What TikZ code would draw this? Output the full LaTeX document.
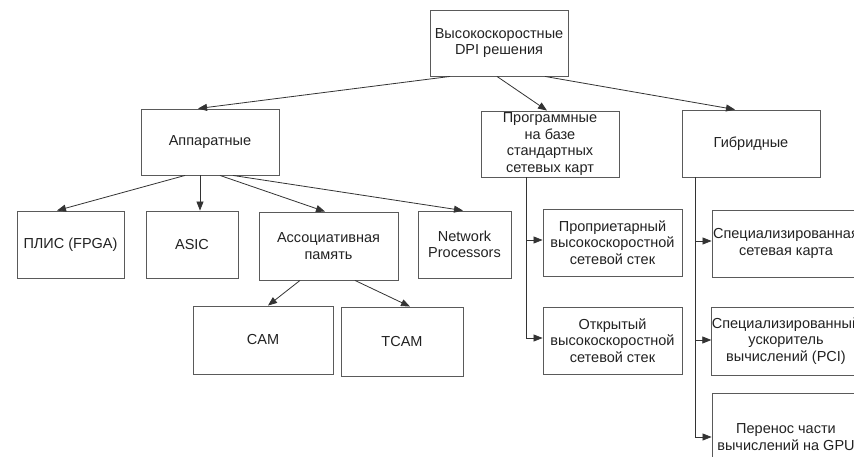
\documentclass[tikz,border=0pt]{standalone}
\usepackage{fontspec}
\setmainfont{Liberation Sans}
\usetikzlibrary{arrows.meta}
\definecolor{boxline}{HTML}{5A5A5A}
\definecolor{txt}{HTML}{222222}
\begin{document}
\begin{tikzpicture}[x=1pt,y=-1pt,
  box/.style={draw=boxline,line width=0.9pt,inner sep=0pt,align=center,text=txt,
    font=\fontsize{14.5}{16.5}\selectfont},
  conn/.style={draw=black!80,line width=0.8pt,-{Triangle[length=9pt,width=7pt]}}]
\useasboundingbox (0,0) rectangle (854,457);
\clip (0,0) rectangle (854,457);
\fill[white] (0,0) rectangle (854,457);
% level 0
\node[box,minimum width=138pt,minimum height=66pt] (top) at (499,43) {Высокоскоростные\\DPI решения};
% level 1
\node[box,minimum width=138pt,minimum height=66pt] (app) at (210,142) {Аппаратные};
\node[box,minimum width=138pt,minimum height=66pt] (prog) at (550,144) {Программные\\на базе\\стандартных\\сетевых карт};
\node[box,minimum width=138pt,minimum height=67pt] (hyb) at (751,143.5) {Гибридные};
% hardware children
\node[box,minimum width=107pt,minimum height=67pt] (plis) at (70.5,244.5) {ПЛИС (FPGA)};
\node[box,minimum width=92pt,minimum height=67pt] (asic) at (192,244.5) {ASIC};
\node[box,minimum width=139pt,minimum height=68pt] (assoc) at (328.5,246) {Ассоциативная\\память};
\node[box,minimum width=93pt,minimum height=67pt] (net) at (464.5,244.5) {Network\\Processors};
\node[box,minimum width=140pt,minimum height=68pt] (cam) at (263,340) {CAM};
\node[box,minimum width=122pt,minimum height=69pt] (tcam) at (402,341.5) {TCAM};
% software children
\node[box,minimum width=139pt,minimum height=67pt] (prop) at (612.5,242.5) {Проприетарный\\высокоскоростной\\сетевой стек};
\node[box,minimum width=139pt,minimum height=67pt] (open) at (612.5,340.5) {Открытый\\высокоскоростной\\сетевой стек};
% hybrid children
\node[box,minimum width=148pt,minimum height=67pt] (spec1) at (786,243.5) {Специализированная\\сетевая карта};
\node[box,minimum width=148pt,minimum height=68pt] (spec2) at (786,341) {Специализированный\\ускоритель\\вычислений (PCI)};
\node[box,minimum width=148pt,minimum height=88pt] (gpu) at (786,437) {Перенос части\\вычислений на GPU};
% connectors level 0 -> 1
\draw[conn] ([xshift=-49pt]top.south) -- ([xshift=-12pt]app.north);
\draw[conn] ([xshift=-2pt]top.south) -- ([xshift=-3pt]prog.north);
\draw[conn] ([xshift=46pt]top.south) -- ([xshift=-16pt]hyb.north);
% hardware
\draw[conn] ([xshift=-25pt]app.south) -- ([xshift=-13.5pt]plis.north);
\draw[conn] ([xshift=-10pt]app.south) -- ([xshift=8pt]asic.north);
\draw[conn] ([xshift=10pt]app.south) -- ([xshift=-3.5pt]assoc.north);
\draw[conn] ([xshift=23pt]app.south) -- ([xshift=-1.5pt]net.north);
\draw[conn] ([xshift=-28.5pt]assoc.south) -- ([xshift=5pt]cam.north);
\draw[conn] ([xshift=26.5pt]assoc.south) -- ([xshift=8pt]tcam.north);
% software
\coordinate (pv) at ([xshift=-24pt]prog.south);
\draw[conn] (pv) |- ([yshift=2.5pt]prop.west);
\draw[conn] (pv) |- ([yshift=2.5pt]open.west);
% hybrid
\coordinate (hv) at ([xshift=-56pt]hyb.south);
\draw[conn] (hv) |- ([yshift=2.5pt]spec1.west);
\draw[conn] (hv) |- ([yshift=1pt]spec2.west);
\draw[conn] (hv) |- (gpu.west);
\end{tikzpicture}
\end{document}
